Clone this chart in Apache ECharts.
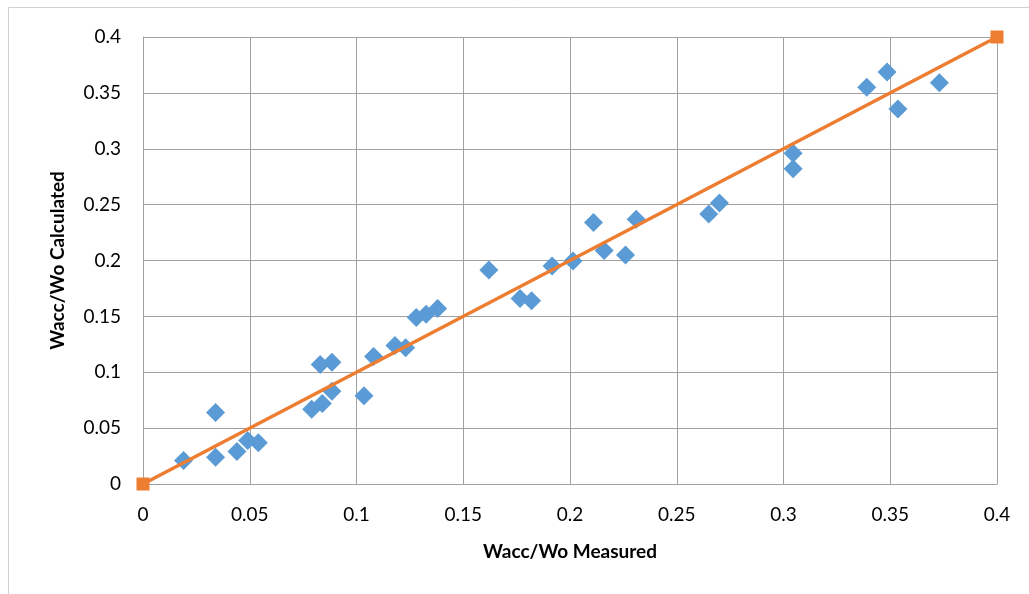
<!DOCTYPE html>
<html>
<head>
<meta charset="utf-8">
<script src="https://cdn.jsdelivr.net/npm/echarts@6/dist/echarts.min.js"></script>
<style>
  html, body { margin: 0; padding: 0; background: #fff; }
</style>
</head>
<body>
<div id="main" style="width: 1029px; height: 594px"></div>
<script>
// measured vs calculated points
const measured = [0.019, 0.034, 0.034, 0.044, 0.049, 0.054, 0.079, 0.083, 0.084, 0.0885,
  0.0885, 0.1035, 0.108, 0.118, 0.123, 0.128, 0.1326, 0.138, 0.162, 0.1766,
  0.182, 0.1916, 0.2014, 0.211, 0.216, 0.226, 0.231, 0.265, 0.270, 0.3045,
  0.3045, 0.339, 0.3485, 0.3536, 0.373];
const calculated = [0.021, 0.064, 0.024, 0.029, 0.039, 0.037, 0.067, 0.107, 0.072, 0.109,
  0.083, 0.079, 0.114, 0.124, 0.122, 0.149, 0.152, 0.157, 0.1915, 0.166,
  0.164, 0.195, 0.1996, 0.234, 0.209, 0.205, 0.237, 0.2416, 0.2515, 0.296,
  0.282, 0.355, 0.3687, 0.3356, 0.359];
// 1:1 line
const lineX = [0, 0.4];
const lineY = [0, 0.4];

const font = 'Lato, "Open Sans", sans-serif';
const gridColor = '#a0a0a0';

const myChart = echarts.init(document.getElementById('main'));
myChart.setOption({
  animation: false,
  graphic: [{
    type: 'rect',
    shape: { x: 8.5, y: 7.5, width: 1040, height: 600 },
    style: { fill: 'none', stroke: '#d0d0d0', lineWidth: 1 },
    silent: true
  }],
  grid: { left: 143, right: 32, top: 37, bottom: 110 },
  xAxis: {
    type: 'value',
    min: 0, max: 0.4, interval: 0.05,
    name: 'Wacc/Wo Measured',
    nameLocation: 'middle',
    nameGap: 58,
    nameTextStyle: { fontFamily: font, fontSize: 19, fontWeight: 'bold', color: '#000' },
    axisLine: { show: true, lineStyle: { color: gridColor, width: 1 } },
    axisTick: { show: false },
    axisLabel: { fontFamily: font, fontSize: 19, color: '#000', margin: 21 },
    splitLine: { show: true, lineStyle: { color: gridColor, width: 1 } }
  },
  yAxis: {
    type: 'value',
    min: 0, max: 0.4, interval: 0.05,
    name: 'Wacc/Wo Calculated',
    nameLocation: 'middle',
    nameGap: 76,
    nameTextStyle: { fontFamily: font, fontSize: 19, fontWeight: 'bold', color: '#000' },
    axisLine: { show: true, lineStyle: { color: gridColor, width: 1 } },
    axisTick: { show: false },
    axisLabel: { fontFamily: font, fontSize: 19, color: '#000', margin: 22 },
    splitLine: { show: true, lineStyle: { color: gridColor, width: 1 } }
  },
  series: [
    {
      type: 'line',
      data: lineX.map((x, i) => [x, lineY[i]]),
      symbol: 'rect',
      symbolSize: 13,
      lineStyle: { color: '#ED7D31', width: 3.5 },
      itemStyle: { color: '#ED7D31' },
      z: 3
    },
    {
      type: 'scatter',
      data: measured.map((x, i) => [x, calculated[i]]),
      symbol: 'diamond',
      symbolSize: 19,
      itemStyle: { color: '#5B9BD5', opacity: 1 },
      z: 2
    }
  ]
});
</script>
</body>
</html>
